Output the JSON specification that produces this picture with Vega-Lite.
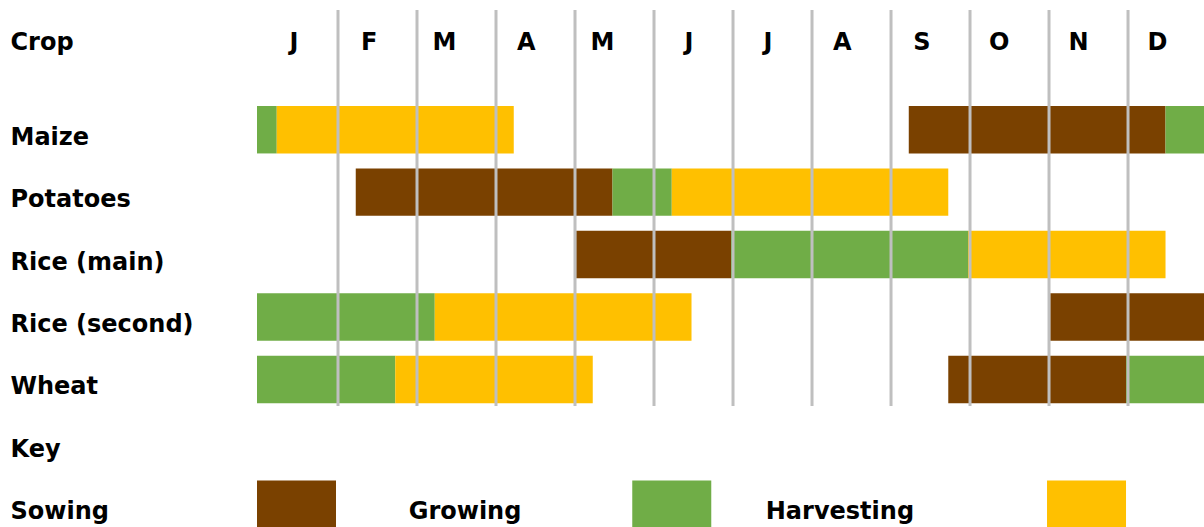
{
  "$schema": "https://vega.github.io/schema/vega-lite/v6.json",
  "width": 947,
  "height": 396,
  "autosize": {"type": "none"},
  "padding": {"left": 257, "top": 10, "right": 0, "bottom": 121},
  "background": "white",
  "config": {"view": {"stroke": null}, "font": "DejaVu Sans"},
  "datasets": {
    "phases": [
      {"row": "Maize", "stage": "Growing", "start": 0, "end": 0.25},
      {"row": "Maize", "stage": "Harvesting", "start": 0.25, "end": 3.25},
      {"row": "Maize", "stage": "Sowing", "start": 8.25, "end": 11.5},
      {"row": "Maize", "stage": "Growing", "start": 11.5, "end": 12},
      {"row": "Potatoes", "stage": "Sowing", "start": 1.25, "end": 4.5},
      {"row": "Potatoes", "stage": "Growing", "start": 4.5, "end": 5.25},
      {"row": "Potatoes", "stage": "Harvesting", "start": 5.25, "end": 8.75},
      {"row": "Rice (main)", "stage": "Sowing", "start": 4.04, "end": 6},
      {"row": "Rice (main)", "stage": "Growing", "start": 6, "end": 9},
      {"row": "Rice (main)", "stage": "Harvesting", "start": 9, "end": 11.5},
      {"row": "Rice (second)", "stage": "Growing", "start": 0, "end": 2.25},
      {"row": "Rice (second)", "stage": "Harvesting", "start": 2.25, "end": 5.5},
      {"row": "Rice (second)", "stage": "Sowing", "start": 10.04, "end": 12},
      {"row": "Wheat", "stage": "Growing", "start": 0, "end": 1.75},
      {"row": "Wheat", "stage": "Harvesting", "start": 1.75, "end": 4.25},
      {"row": "Wheat", "stage": "Sowing", "start": 8.75, "end": 11},
      {"row": "Wheat", "stage": "Growing", "start": 11, "end": 12},
      {"row": "Sowing", "stage": "Sowing", "start": 0, "end": 1},
      {"row": "Sowing", "stage": "Growing", "start": 4.75, "end": 5.75},
      {"row": "Sowing", "stage": "Harvesting", "start": 10, "end": 11}
    ],
    "bounds": [
      {"boundary": 1}, {"boundary": 2}, {"boundary": 3}, {"boundary": 4},
      {"boundary": 5}, {"boundary": 6}, {"boundary": 7}, {"boundary": 8},
      {"boundary": 9}, {"boundary": 10}, {"boundary": 11}
    ],
    "keylabels": [
      {"row": "Sowing", "label": "Growing", "pos": 1.92},
      {"row": "Sowing", "label": "Harvesting", "pos": 6.44}
    ]
  },
  "layer": [
    {
      "data": {"name": "phases"},
      "mark": {"type": "bar"},
      "encoding": {
        "x": {
          "field": "start",
          "type": "quantitative",
          "scale": {"domain": [0, 11.987], "nice": false, "zero": false},
          "axis": {
            "orient": "top",
            "title": null,
            "values": [0.5, 1.5, 2.5, 3.5, 4.5, 5.5, 6.5, 7.5, 8.5, 9.5, 10.5, 11.5],
            "labelExpr": "['J','F','M','A','M','J','J','A','S','O','N','D'][floor(datum.value)]",
            "labelAlign": "right",
            "labelOffset": 1.5,
            "labelBaseline": "alphabetic",
            "labelPadding": -39,
            "labelFlush": false,
            "labelOverlap": false,
            "ticks": false,
            "domain": false,
            "grid": false,
            "labelFont": "DejaVu Sans",
            "labelFontSize": 24,
            "labelFontWeight": "bold",
            "labelColor": "black"
          }
        },
        "x2": {"field": "end"},
        "y": {
          "field": "row",
          "type": "nominal",
          "sort": null,
          "scale": {
            "type": "band",
            "domain": ["Maize", "Potatoes", "Rice (main)", "Rice (second)", "Wheat", "Key", "Sowing"],
            "range": [96, 518],
            "paddingInner": 0.24,
            "paddingOuter": 0
          },
          "axis": {
            "title": "Crop",
            "titleAngle": 0,
            "titleAlign": "left",
            "titleBaseline": "alphabetic",
            "titleX": -247,
            "titleY": 39,
            "titleFont": "DejaVu Sans",
            "titleFontSize": 24,
            "titleFontWeight": "bold",
            "titleColor": "black",
            "labelAlign": "left",
            "labelPadding": 247,
            "labelOffset": 15,
            "labelBaseline": "alphabetic",
            "labelLimit": 400,
            "ticks": false,
            "domain": false,
            "grid": false,
            "labelFont": "DejaVu Sans",
            "labelFontSize": 24,
            "labelFontWeight": "bold",
            "labelColor": "black"
          }
        },
        "color": {
          "field": "stage",
          "type": "nominal",
          "scale": {"domain": ["Sowing", "Growing", "Harvesting"], "range": ["#7A4100", "#70AD47", "#FFC000"]},
          "legend": null
        }
      }
    },
    {
      "data": {"name": "bounds"},
      "mark": {"type": "rule", "color": "#BFBFBF", "strokeWidth": 3, "xOffset": 2},
      "encoding": {
        "x": {"field": "boundary", "type": "quantitative"}
      }
    },
    {
      "data": {"name": "keylabels"},
      "mark": {"type": "text", "align": "left", "baseline": "alphabetic", "dy": 15, "font": "DejaVu Sans", "fontSize": 24, "fontWeight": "bold", "color": "black"},
      "encoding": {
        "x": {"field": "pos", "type": "quantitative"},
        "y": {"field": "row", "type": "nominal"},
        "text": {"field": "label"}
      }
    }
  ]
}
